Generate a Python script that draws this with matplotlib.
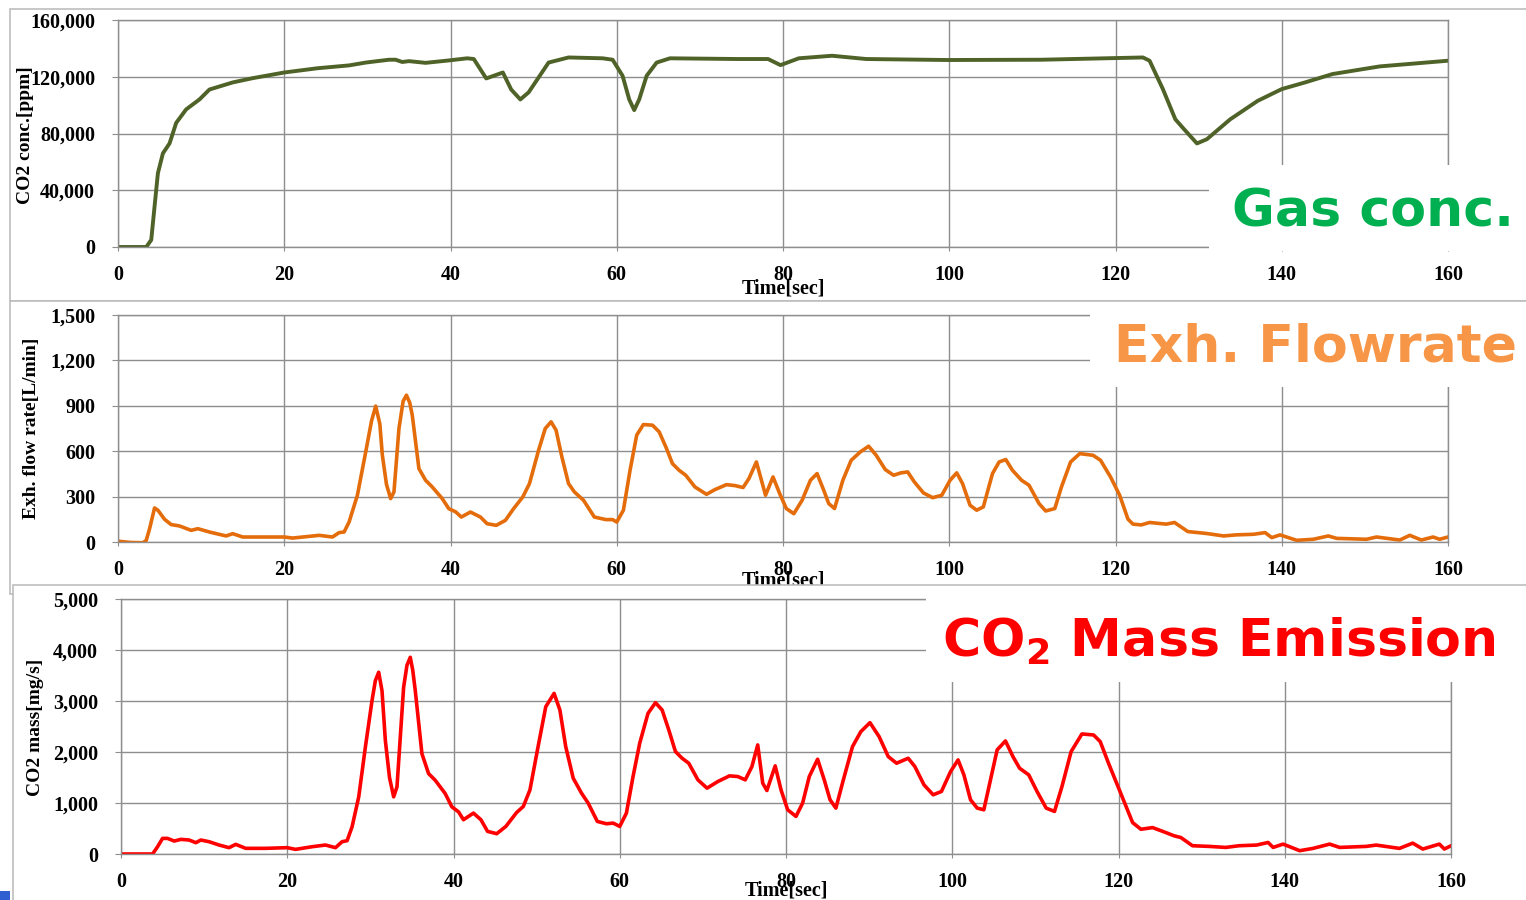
import matplotlib
matplotlib.use('Agg')
import matplotlib.pyplot as plt
from matplotlib.patches import Rectangle
from matplotlib.ticker import FuncFormatter, MultipleLocator

# ---------------- data ----------------
conc_t = [0, 3.4, 4.0, 4.4, 4.8, 5.4, 6.2, 7.0, 8.2, 9.8, 11.0, 13.8, 16.2, 20.0, 24.0,
          27.8, 29.8, 32.6, 33.4, 34.2, 35.0, 37.0, 39.8, 42.0, 42.8, 44.3, 46.3, 47.3,
          48.4, 49.4, 50.2, 51.8, 54.2, 58.3, 59.5, 60.7, 61.5, 62.1, 62.7, 63.6, 64.8,
          66.4, 74.6, 78.2, 79.7, 81.9, 85.9, 90.0, 99.8, 111.1, 123.3, 124.1, 125.7,
          127.2, 128.1, 129.8, 131.0, 133.8, 137.1, 140.0, 142.8, 146.1, 151.8, 160.0]
conc_v = [0, 0, 5000, 28700, 52000, 66000, 73000, 87500, 97000, 104000, 111000, 116000,
          119000, 123000, 126000, 128000, 130000, 132000, 132000, 130400, 131000, 129800,
          131500, 133000, 132500, 118800, 123000, 111000, 104000, 109000, 116000, 130000,
          133600, 133000, 132000, 120700, 104000, 96500, 104000, 120700, 130000, 133000,
          132500, 132500, 128200, 133000, 134800, 132500, 131800, 132000, 133600, 131300,
          111300, 90000, 84000, 73000, 76000, 90000, 103000, 111300, 116000, 121900,
          127300, 131300]

flow_t = [0, 1.5, 3.0, 3.4, 3.8, 4.4, 4.8, 5.6, 6.4, 7.4, 8.8, 9.6, 11.0, 13.0, 13.8, 15.0,
          17.8, 20.0, 21.0, 24.2, 25.8, 26.6, 27.2, 27.8, 28.8, 29.8, 30.5, 31.0, 31.5,
          31.8, 32.3, 32.8, 33.2, 33.8, 34.3, 34.7, 35.1, 35.4, 36.2, 37.0, 37.8, 39.0,
          39.8, 40.6, 41.3, 42.4, 43.6, 44.4, 45.5, 46.6, 47.6, 48.7, 49.5, 50.6, 51.4,
          52.1, 52.7, 53.4, 54.2, 54.9, 56.0, 57.3, 58.7, 59.5, 60.0, 60.8, 61.6, 62.4,
          63.2, 64.3, 65.1, 65.9, 66.7, 67.5, 68.3, 69.4, 70.8, 71.8, 73.2, 74.2, 75.2,
          75.9, 76.8, 77.4, 77.9, 78.8, 79.6, 80.4, 81.3, 82.3, 83.3, 84.1, 84.9, 85.5,
          86.2, 87.2, 88.2, 89.3, 90.3, 91.2, 92.3, 93.3, 94.2, 95.0, 95.8, 96.9, 98.0,
          99.1, 100.1, 100.9, 101.6, 102.5, 103.3, 104.1, 105.2, 106.0, 106.8, 107.6,
          108.7, 109.6, 110.8, 111.6, 112.7, 113.5, 114.6, 115.7, 117.3, 118.2, 119.4,
          120.5, 121.5, 122.1, 123.1, 124.1, 126.1, 127.1, 128.7, 131.0, 133.0, 134.5,
          136.6, 138.0, 138.8, 139.8, 141.8, 143.8, 145.6, 146.6, 150.2, 151.4, 154.2,
          155.4, 156.8, 158.2, 159.0, 160.0]
flow_v = [5, -3, -5, 11, 88, 225, 210, 150, 115, 106, 77, 88, 66, 40, 55, 33,
          33, 33, 26, 44, 33, 62, 66, 132, 309, 595, 800, 898, 780,
          574, 380, 287, 331, 750, 930, 970, 920, 838, 485, 408, 364, 287,
          220, 200, 165, 198, 165, 121, 110, 143, 221, 298, 386, 607, 750,
          794, 739, 562, 386, 331, 276, 165, 148, 148, 132, 210, 474, 706,
          776, 772, 728, 629, 518, 474, 441, 364, 315, 346, 379, 373, 360,
          419, 529, 408, 309, 430, 320, 221, 187, 276, 408, 452, 342, 254,
          221, 408, 540, 595, 633, 574, 479, 441, 457, 463, 397, 324, 293,
          309, 408, 457, 386, 243, 210, 232, 452, 529, 545, 474,
          408, 375, 254, 205, 221, 364, 529, 584, 573, 540, 430,
          309, 151, 118, 113, 129, 118, 129, 69, 56, 40, 47,
          51, 62, 29, 47, 11, 18, 40, 24, 18, 33, 13,
          44, 13, 33, 18, 33]

mass_t = [0, 3.8, 4.4, 5.0, 5.6, 6.4, 7.2, 8.2, 9.0, 9.6, 10.6, 11.8, 13.0, 13.8, 15.0,
          17.4, 20.0, 21.0, 23.0, 24.6, 25.8, 26.6, 27.2, 27.8, 28.6, 29.4, 30.2, 30.6,
          31.0, 31.4, 31.8, 32.3, 32.8, 33.2, 34.0, 34.4, 34.8, 35.1, 35.4, 36.2, 37.0,
          37.8, 39.0, 39.8, 40.6, 41.2, 42.4, 43.3, 44.1, 45.2, 46.3, 47.6, 48.4, 49.2,
          50.1, 51.1, 52.1, 52.8, 53.5, 54.4, 55.4, 56.2, 57.3, 58.4, 59.2, 60.0, 60.8,
          61.6, 62.4, 63.4, 64.3, 65.1, 65.9, 66.7, 67.5, 68.3, 69.4, 70.5, 71.8, 73.2,
          74.2, 75.1, 75.9, 76.6, 77.2, 77.7, 78.7, 79.4, 80.2, 81.2, 82.0, 82.8, 83.8,
          84.6, 85.3, 86.0, 86.9, 88.0, 89.0, 90.1, 91.2, 92.3, 93.3, 94.7, 95.5, 96.6,
          97.7, 98.7, 99.8, 100.7, 101.4, 102.2, 103.0, 103.8, 104.6, 105.4, 106.4,
          107.3, 108.1, 109.2, 110.2, 111.3, 112.3, 113.2, 114.3, 115.6, 117.0, 117.8,
          118.8, 120.0, 121.0, 121.7, 122.7, 124.1, 125.7, 126.7, 127.5, 128.9, 130.9,
          132.9, 134.5, 136.6, 138.0, 138.6, 139.8, 141.8, 143.4, 145.4, 146.6, 149.8,
          151.0, 153.8, 155.4, 156.6, 158.6, 159.2, 160.0]
mass_v = [0, 0, 143, 306, 306, 254, 287, 274, 222, 274, 241, 176, 124, 189, 111,
          111, 124, 91, 143, 176, 124, 241, 261, 534, 1121, 2098, 3010, 3400,
          3564, 3200, 2228, 1500, 1121, 1316, 3270, 3700, 3857, 3600, 3205, 1968, 1577,
          1446, 1186, 925, 827, 672, 802, 672, 443, 398, 541, 815, 932, 1258,
          2041, 2888, 3149, 2823, 2106, 1487, 1193, 998, 639, 593, 606, 541, 802,
          1519, 2171, 2758, 2967, 2823, 2432, 2008, 1878, 1780, 1454, 1291, 1421, 1532,
          1519, 1454, 1715, 2139, 1389, 1245, 1728, 1258, 867, 737, 998, 1519, 1858,
          1454, 1063, 900, 1454, 2106, 2399, 2575, 2302, 1910, 1780, 1878, 1715, 1356,
          1161, 1226, 1617, 1845, 1552, 1063, 900, 867, 1454, 2041, 2217,
          1910, 1682, 1552, 1226, 900, 835, 1324, 2008, 2354, 2334, 2204,
          1780, 1300, 900, 615, 485, 518, 420, 356, 323, 162, 149,
          129, 162, 175, 226, 129, 194, 65, 110, 194, 129, 149,
          175, 110, 213, 97, 194, 97, 162]

x_ticks_step = 20
panel_titles = ['Gas conc.', 'Exh. Flowrate', r'CO$_\mathbf{2}$ Mass Emission']
y_labels = ['CO2 conc.[ppm]', 'Exh. flow rate[L/min]', 'CO2 mass[mg/s]']
x_label = 'Time[sec]'

# ---------------- layout ----------------
W, H = 1526, 900
plt.rcParams['font.family'] = ['Liberation Serif']
plt.rcParams['font.weight'] = 'bold'
plt.rcParams['mathtext.fontset'] = 'dejavusans'
fig = plt.figure(figsize=(W / 100, H / 100), dpi=100)

def fx(x):
    return x / W

def fy(y):
    return 1 - y / H

def rect(x0, y0, x1, y1, z, fc='white', ec='none', lw=0):
    fig.patches.append(Rectangle((fx(x0), fy(y1)), (x1 - x0) / W, (y1 - y0) / H,
                                 transform=fig.transFigure, facecolor=fc,
                                 edgecolor=ec, linewidth=lw, zorder=z))

def add_axes(left, top, right, bottom, z):
    ax = fig.add_axes([fx(left), fy(bottom), (right - left) / W, (bottom - top) / H])
    ax.set_zorder(z)
    ax.patch.set_alpha(0)
    return ax

GRID = '#8E8E8E'
FRAME = '#BDBDBD'

def style(ax, ymax, ystep):
    ax.set_xlim(0, 160)
    ax.set_ylim(0, ymax)
    ax.xaxis.set_major_locator(MultipleLocator(x_ticks_step))
    ax.yaxis.set_major_locator(MultipleLocator(ystep))
    ax.yaxis.set_major_formatter(FuncFormatter(lambda v, p: f'{v:,.0f}'))
    ax.grid(True, color=GRID, lw=1.0)
    ax.set_axisbelow(True)
    for s in ax.spines.values():
        s.set_color(GRID)
        s.set_linewidth(1.0)
    ax.tick_params(axis='x', length=3, color=GRID, pad=10, labelsize=14.5)
    ax.tick_params(axis='y', length=4.5, color=GRID, pad=12, labelsize=14.5)

# panel frames
rect(9.5, 8.5, 1540, 300.5, 1, ec=FRAME, lw=1.2)
rect(9.5, 301.5, 1540, 594, 2, ec=FRAME, lw=1.2)

# panel 1
ax1 = add_axes(118, 20, 1448, 247, 3)
style(ax1, 160000, 40000)
ax1.plot(conc_t, conc_v, color='#4F6228', lw=2.8, solid_joinstyle='round', solid_capstyle='round')
fig.text(fx(25), fy(135), y_labels[0], rotation=90, ha='center', va='center', fontsize=14, zorder=3.5)
fig.text(fx(783), fy(288), x_label, ha='center', va='center', fontsize=14.5, zorder=3.5)

# panel 2
ax2 = add_axes(118, 315, 1448, 542, 3)
style(ax2, 1500, 300)
ax2.plot(flow_t, flow_v, color='#E46C0A', lw=2.6, solid_joinstyle='round', solid_capstyle='round')
fig.text(fx(32), fy(428), y_labels[1], rotation=90, ha='center', va='center', fontsize=14, zorder=3.5)
fig.text(fx(783), fy(580), x_label, ha='center', va='center', fontsize=14.5, zorder=3.5)

# label boxes panel 1 & 2
rect(1209, 165, 1540, 251, 4)
rect(1090, 302.5, 1540, 387, 4)
fig.text(fx(1232), fy(226.5), panel_titles[0], family='DejaVu Sans', fontweight='bold',
         fontsize=37.5, color='#00B050', ha='left', va='baseline', zorder=5)
fig.text(fx(1114), fy(361.5), panel_titles[1], family='DejaVu Sans', fontweight='bold',
         fontsize=37.5, color='#F79646', ha='left', va='baseline', zorder=5)

# panel 3
rect(12.5, 585, 1540, 920, 6, ec=FRAME, lw=1.2)
ax3 = add_axes(121, 599, 1451, 854, 7)
style(ax3, 5000, 1000)
ax3.plot(mass_t, mass_v, color='#FF0000', lw=2.6, solid_joinstyle='round', solid_capstyle='round')
fig.text(fx(35), fy(727), y_labels[2], rotation=90, ha='center', va='center', fontsize=14, zorder=7.5)
fig.text(fx(786), fy(891), x_label, ha='center', va='center', fontsize=14.5, zorder=7.5)

rect(926, 587, 1540, 682, 8)
fig.text(fx(942), fy(656.5), panel_titles[2], family='DejaVu Sans', fontweight='bold',
         fontsize=37.5, color='#FF0000', ha='left', va='baseline', zorder=9)

# small blue corner mark
rect(0, 891, 10, 900, 10, fc='#2F5FD0')

fig.savefig('out.png', dpi=100)
